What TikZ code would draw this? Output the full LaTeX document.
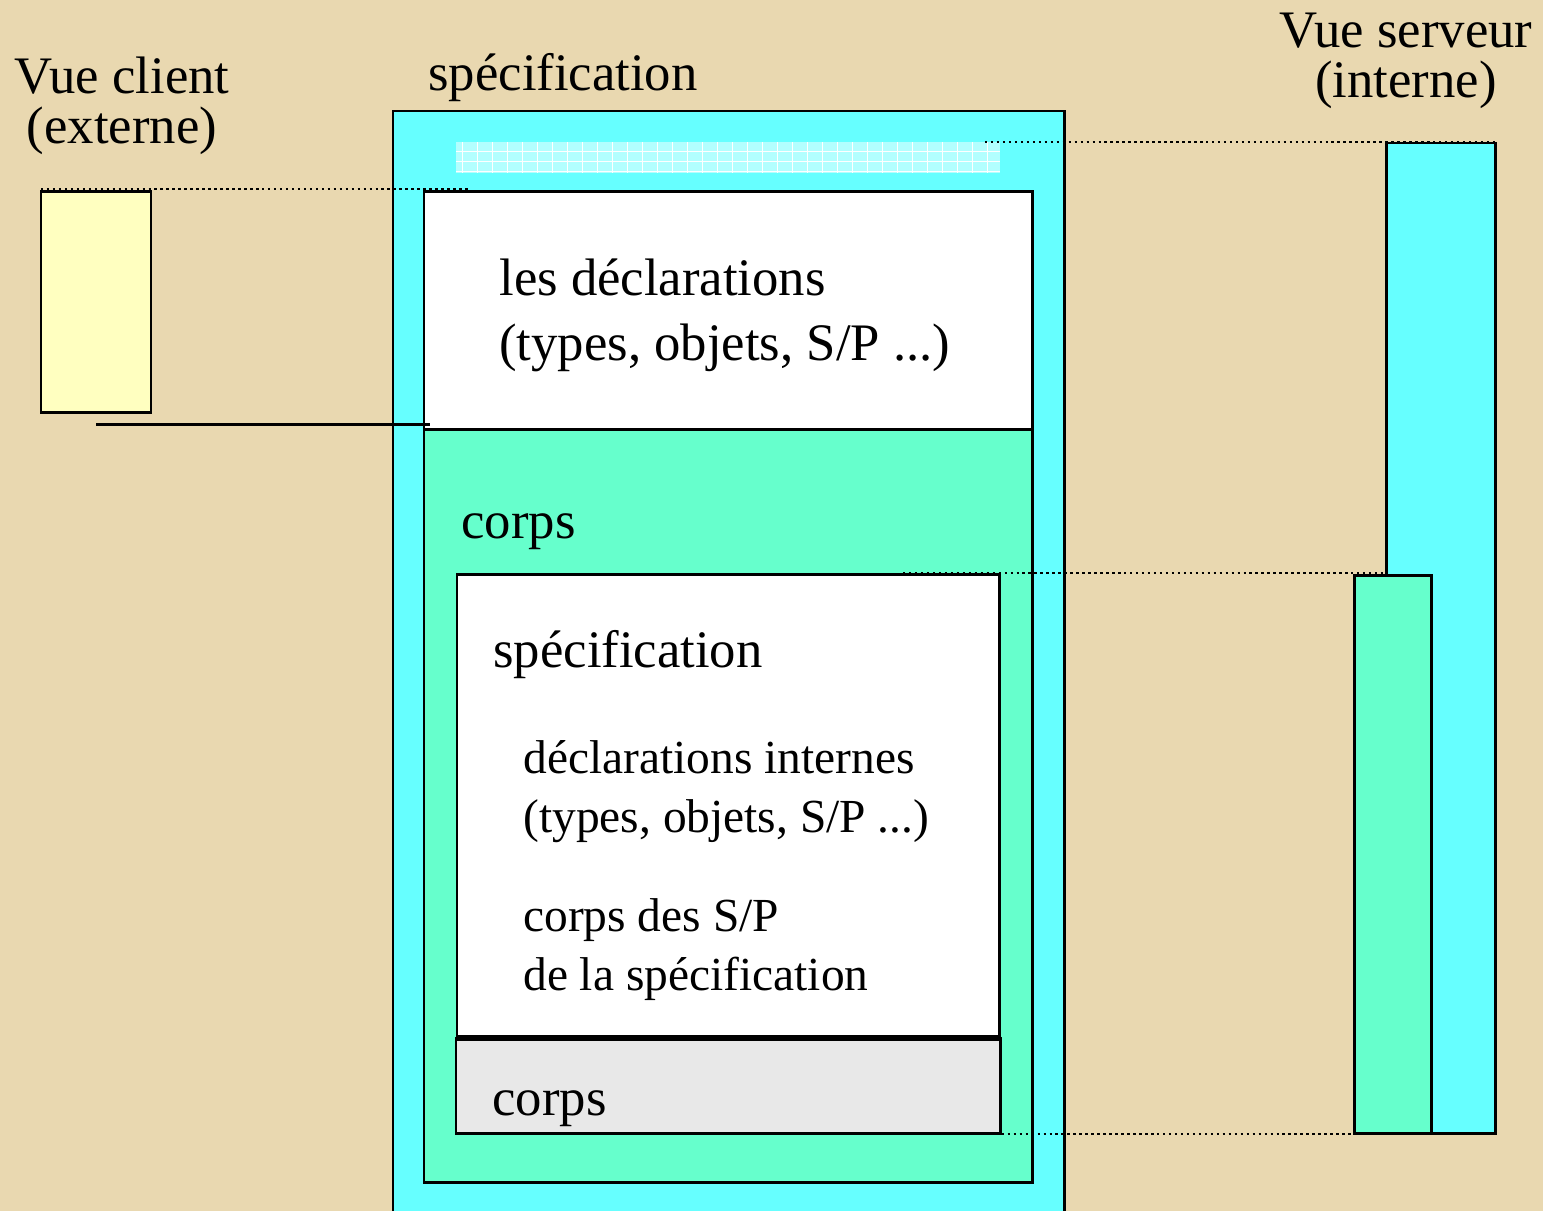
\documentclass[tikz,border=0pt]{standalone}
\usepackage{fontspec}
\setmainfont{Liberation Serif}
\usepackage{tikz}
\definecolor{parchment}{RGB}{233,216,176}
\definecolor{cyanbox}{RGB}{102,255,255}
\definecolor{greenbox}{RGB}{102,255,204}
\definecolor{yellowbox}{RGB}{255,255,192}
\definecolor{graybox}{RGB}{232,232,232}
\definecolor{gridbox}{RGB}{178,255,255}
\newcommand{\bigtxt}  {\fontsize{30}{36.8}\selectfont}
\newcommand{\headtxt} {\fontsize{30}{28.3}\selectfont}
\newcommand{\smalltxt}{\fontsize{27}{33.4}\selectfont}
\tikzset{
  box/.style={draw=black, line width=1.7pt},
  guide/.style={dotted, line width=1.4pt},
  txt/.style={inner sep=0pt, anchor=base west, align=left}
}

\begin{document}
\begin{tikzpicture}[x=0.02cm, y=-0.02cm]
   \useasboundingbox[fill=parchment] (0,0) rectangle (1543,1211);
   % paquetage (vue d'ensemble)
   \filldraw[box, fill=cyanbox] (393,111) rectangle (1064,1230);
   \fill[gridbox] (456,142) rectangle (1000,173);
   \foreach \x in {462,477,...,1000} \draw[white, line width=0.4pt] (\x,142) -- (\x,173);
   \foreach \y in {151,161,171} \draw[white, line width=0.4pt] (456,\y) -- (1000,\y);
   \filldraw[box, fill=white]    (424,191) rectangle (1032,429);
   \filldraw[box, fill=greenbox] (424,429) rectangle (1032,1182);
   \filldraw[box, fill=white]    (457,574) rectangle (999,1036);
   \filldraw[box, fill=graybox]  (456,1038) rectangle (1000,1133);
   \draw[line width=3.4pt] (456,1038) -- (1000,1038);
   % vue client
   \filldraw[box, fill=yellowbox] (41,191) coordinate (client top) rectangle (151,412) coordinate (client bot);
   \coordinate (client mid) at (96,424);
   \coordinate (decl left) at (430,424);
   % vue serveur
   \filldraw[box, fill=cyanbox]  (1386,143) coordinate (serveur top) rectangle (1495,1133);
   \filldraw[box, fill=greenbox] (1354,575) coordinate (corps top) rectangle (1431,1133) coordinate (corps bot);
   \coordinate (serveur right) at (1495,142);
   % lignes de rappel
   \coordinate (a) at (470,189);
   \coordinate (b) at (985,142);
   \coordinate (c) at (903,573);
   \coordinate (d) at (936,1134);
   \draw[guide] (41,189) -- (a);
   \draw[guide] (b) -- (serveur right);
   \draw[guide] (c) -- (1386,573);
   \draw[guide] (d) -- (1354,1134);
   \draw[line width=1.7pt] (client mid) -- (decl left);
   % textes (base = derniere ligne)
   \node[inner sep=0pt, anchor=base, align=center, font=\headtxt] (client) at (122,143) {Vue client\\(externe)};
   \node[inner sep=0pt, anchor=base, align=center, font=\headtxt] (serveur) at (1406,97) {Vue serveur\\(interne)};
   \node[txt, font=\bigtxt] (spec)   at (428,90)  {spécification};
   \node[txt, font=\bigtxt] (decl)   at (499,360) {les déclarations\\(types, objets, S/P ...)};
   \node[txt, font=\bigtxt] (corps)  at (461,538) {corps};
   \node[txt, font=\bigtxt] (spec2)  at (493,667) {spécification};
   \node[txt, font=\smalltxt] (intern) at (523,832) {déclarations internes\\(types, objets, S/P ...)};
   \node[txt, font=\smalltxt] (corpsSP) at (523,990) {corps des S/P\\de la spécification};
   \node[txt, font=\bigtxt] (corps2) at (492,1115) {corps};
  \end{tikzpicture}
\end{document}
